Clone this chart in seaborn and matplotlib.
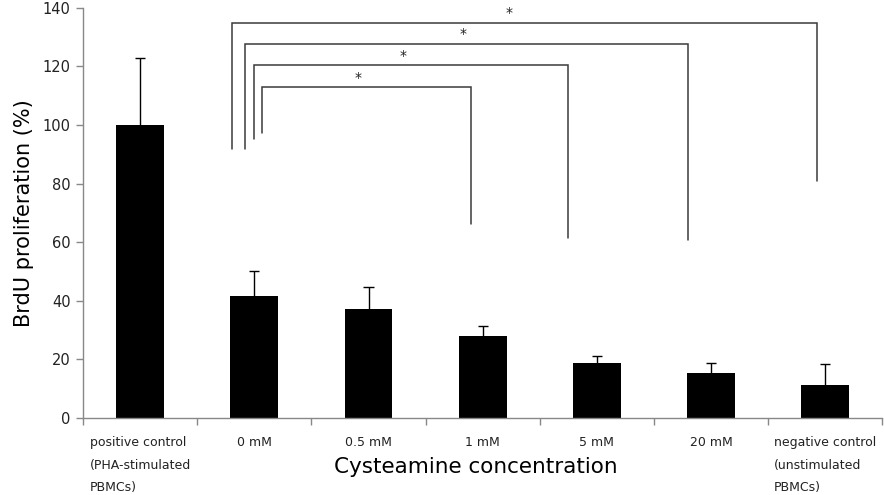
import matplotlib
matplotlib.use("Agg")
import matplotlib.pyplot as plt
import seaborn as sns
import pandas as pd
import numpy as np

# Values
categories = ["positive control\n(PHA-stimulated\nPBMCs)", "0 mM", "0.5 mM", "1 mM",
              "5 mM", "20 mM", "negative control\n(unstimulated\nPBMCs)"]
means = [100.0, 41.6, 37.2, 28.0, 18.8, 15.4, 11.3]
errors = [23.0, 8.6, 7.5, 3.4, 2.4, 3.4, 7.1]

# significance brackets: left x, right x, top y, left foot y, right foot y, star x
bracket_left = [0.80, 0.92, 1.00, 1.07]
bracket_right = [5.93, 4.80, 3.75, 2.90]
bracket_top = [135.0, 127.8, 120.5, 112.9]
bracket_left_foot = [91.7, 91.7, 95.2, 97.2]
bracket_right_foot = [81.0, 60.8, 61.5, 66.2]
star_x = [3.23, 2.83, 2.30, 1.91]

sns.set_theme(style="white")
plt.rcParams['font.family'] = ['DejaVu Sans']

df = pd.DataFrame({'group': categories, 'value': means})

fig, ax = plt.subplots(figsize=(8.84, 4.95), dpi=100)
fig.subplots_adjust(left=0.094, right=0.998, top=0.984, bottom=0.156)

sns.barplot(data=df, x='group', y='value', color='black', saturation=1,
            width=0.42, edgecolor='black', linewidth=0, ax=ax)

# upper error bars only, cap on top
x = np.arange(len(categories))
tops = np.array(means) + np.array(errors)
ax.vlines(x, means, tops, color='black', lw=1)
ax.hlines(tops, x - 0.045, x + 0.045, color='black', lw=1)

# brackets
for l, r, t, lf, rf, sx in zip(bracket_left, bracket_right, bracket_top,
                                bracket_left_foot, bracket_right_foot, star_x):
    ax.plot([l, l, r, r], [lf, t, t, rf], color='#3a3a3a', lw=1.1,
            clip_on=False, solid_joinstyle='miter')
    ax.text(sx, t + 0.8, '*', ha='center', va='bottom', fontsize=10,
            color='#222222')

ax.set_xlim(-0.5, len(categories) - 0.5)
ax.set_ylim(0, 140)
ax.set_yticks(range(0, 141, 20))

# category labels placed under the bars, ticks at category boundaries
ax.set_xticks(np.arange(-0.5, len(categories), 1.0))
ax.set_xticklabels([])
for i, lab in enumerate(categories):
    ax.text(i, -0.045, lab, transform=ax.get_xaxis_transform(), ha='center',
            va='top', multialignment='left', fontsize=9, linespacing=1.95,
            color='#222222')

ax.tick_params(axis='y', direction='out', length=5, width=1, color='#888888',
               labelsize=10.5, labelcolor='#222222', left=True, pad=4)
ax.tick_params(axis='x', direction='out', length=5, width=1, color='#888888',
               bottom=True)

for side in ['top', 'right']:
    ax.spines[side].set_visible(False)
for side in ['left', 'bottom']:
    ax.spines[side].set_color('#888888')
    ax.spines[side].set_linewidth(1)

ax.set_xlabel('')
ax.set_ylabel('BrdU proliferation (%)', fontsize=15, color='black', labelpad=6)
fig.text(0.538, 0.057, 'Cysteamine concentration', ha='center', va='center',
         fontsize=15.5, color='black')

fig.savefig('out.png', dpi=100)
